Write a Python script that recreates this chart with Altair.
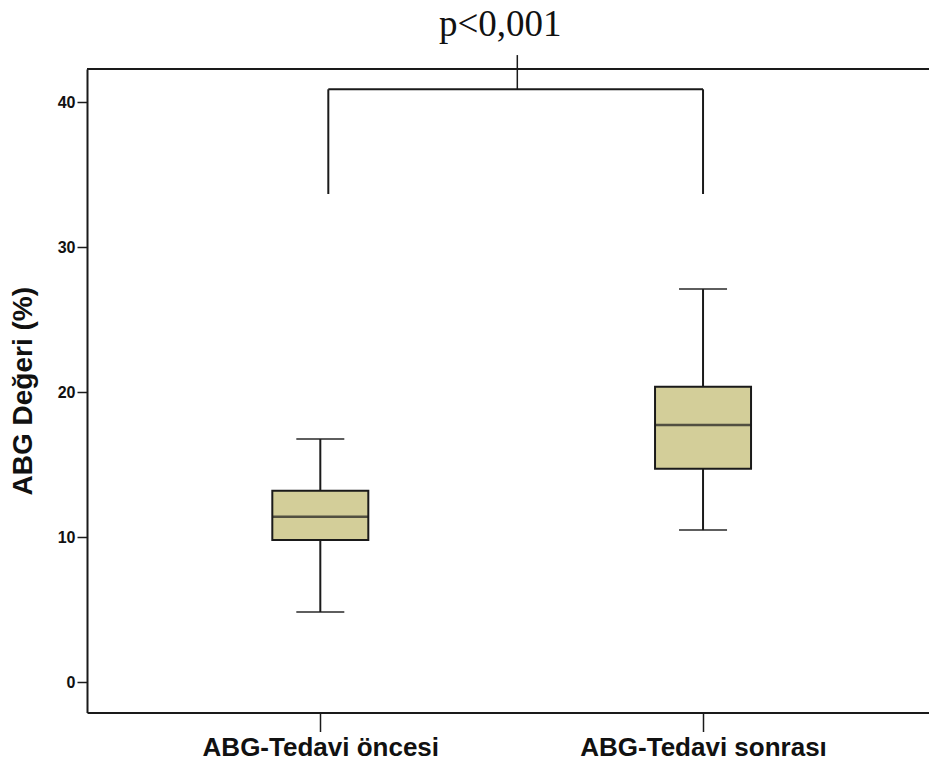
import altair as alt
import pandas as pd

# ---- data ----
groups = ["ABG-Tedavi öncesi", "ABG-Tedavi sonrası"]
whisker_low = [4.83, 10.48]
q1 = [9.79, 14.71]
median = [11.40, 17.72]
q3 = [13.19, 20.37]
whisker_high = [16.76, 27.10]

bracket_top = 40.88
bracket_bottom = 33.66
p_label = "p<0,001"
p_y = 44.55
tick_top = 43.24

y_ticks = [0, 10, 20, 30, 40]
y_domain = [-2.1, 42.28]

df = pd.DataFrame({
    "group": groups,
    "low": whisker_low,
    "q1": q1,
    "median": median,
    "q3": q3,
    "high": whisker_high,
})

box_fill = "#d3ce99"
line_col = "#1a1a1a"

x_scale = alt.Scale(type="point", domain=groups, padding=0.6, align=0.508)
x_enc = alt.X(
    "group:N",
    scale=x_scale,
    axis=alt.Axis(
        title=None, labelAngle=0, domainColor=line_col, domainWidth=2,
        tickColor=line_col, tickSize=19, tickWidth=1.5,
        labelFont="Liberation Sans", labelFontWeight="bold", labelFontSize=26,
        labelColor="#111", labelPadding=3, labelLimit=500,
    ),
)
y_scale = alt.Scale(domain=y_domain, nice=False, zero=False)
y_enc = alt.Y(
    "low:Q", scale=y_scale,
    axis=alt.Axis(
        values=y_ticks, grid=False, domainColor=line_col, domainWidth=2,
        tickColor=line_col, tickSize=10, tickWidth=1.5,
        labelFont="Liberation Sans", labelFontWeight="bold", labelFontSize=16,
        labelColor="#111", labelPadding=2,
        title="ABG Değeri (%)", titleFont="Liberation Sans", titleFontWeight="bold",
        titleFontSize=28, titleColor="#111", titlePadding=20,
    ),
)

base = alt.Chart(df)

whiskers = base.mark_rule(color=line_col, strokeWidth=2).encode(
    x=x_enc, y=y_enc, y2="high:Q"
)
boxes = base.mark_bar(size=96, fill=box_fill, stroke=line_col, strokeWidth=2).encode(
    x="group:N", y=alt.Y("q1:Q", scale=y_scale), y2="q3:Q"
)
medians = base.mark_tick(size=96, thickness=2.5, color=line_col).encode(
    x="group:N", y=alt.Y("median:Q", scale=y_scale)
)
caps_low = base.mark_tick(size=48, thickness=2, color=line_col).encode(
    x="group:N", y=alt.Y("low:Q", scale=y_scale)
)
caps_high = base.mark_tick(size=48, thickness=2, color=line_col).encode(
    x="group:N", y=alt.Y("high:Q", scale=y_scale)
)

# top frame line at the top of the y domain (spans the full plot width)
top_frame = alt.Chart(pd.DataFrame({"t": [y_domain[1]]})).mark_rule(
    color=line_col, strokeWidth=2
).encode(y=alt.Y("t:Q", scale=y_scale))

br_df = pd.DataFrame({"a": [groups[0]], "b": [groups[1]], "top": [bracket_top],
                      "bot": [bracket_bottom], "ttop": [tick_top], "py": [p_y],
                      "lab": [p_label]})
br = alt.Chart(br_df)
br_h = br.mark_rule(color=line_col, strokeWidth=2, xOffset=8).encode(
    x="a:N", x2="b:N", y=alt.Y("top:Q", scale=y_scale)
)
br_l = br.mark_rule(color=line_col, strokeWidth=2, xOffset=8).encode(
    x="a:N", y=alt.Y("bot:Q", scale=y_scale), y2="top:Q"
)
br_r = br.mark_rule(color=line_col, strokeWidth=2).encode(
    x="b:N", y=alt.Y("bot:Q", scale=y_scale), y2="top:Q"
)
br_t = br.mark_rule(color=line_col, strokeWidth=1.5, xOffset=197).encode(
    x="a:N", y=alt.Y("top:Q", scale=y_scale), y2="ttop:Q"
)
p_text = br.mark_text(font="Liberation Serif", fontSize=37, xOffset=180,
                      align="center", baseline="alphabetic", color="#111").encode(
    x="a:N", y=alt.Y("py:Q", scale=y_scale), text="lab:N"
)

chart = alt.layer(
    whiskers, boxes, medians, caps_low, caps_high, top_frame,
    br_h, br_l, br_r, br_t, p_text,
).properties(
    width=842, height=643.5,
    autosize=alt.AutoSizeParams(type="none"),
    padding={"left": 87, "top": 69, "right": 0, "bottom": 49},
    background="white",
).configure_view(
    strokeWidth=0
)

chart.save("out.html", embed_options={"renderer": "svg", "actions": False})
